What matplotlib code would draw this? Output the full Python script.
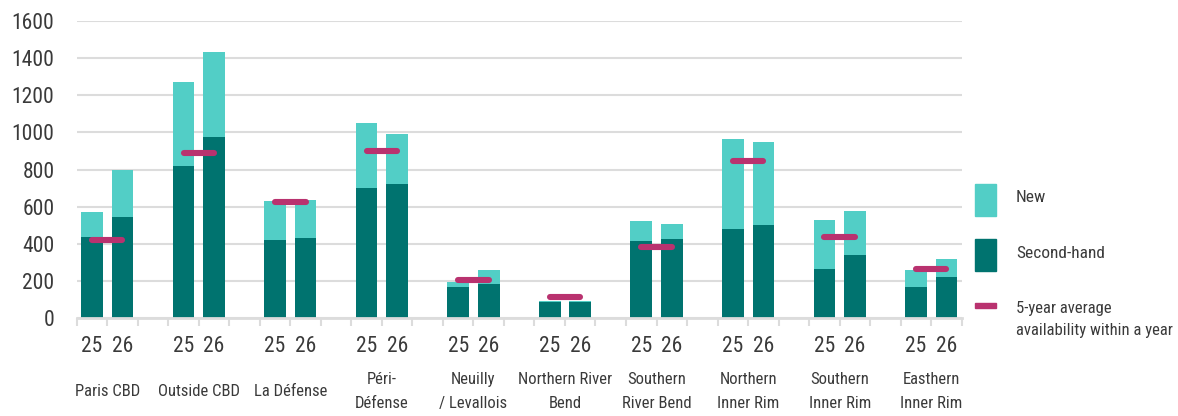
import os
import matplotlib
matplotlib.use("Agg")
import matplotlib.pyplot as plt
from matplotlib import font_manager as fm
from matplotlib.patches import Rectangle
import numpy as np

# ---------------- data ----------------
markets = ["Paris CBD", "Outside CBD", "La Défense", "Péri-\nDéfense", "Neuilly\n/ Levallois",
           "Northern River\nBend", "Southern\nRiver Bend", "Northern\nInner Rim", "Southern\nInner Rim",
           "Easthern\nInner Rim"]
years = ["25", "26"]
second_hand_25 = [437, 819, 423, 700, 167, 88, 417, 478, 263, 170]
second_hand_26 = [546, 973, 433, 724, 184, 88, 426, 502, 340, 220]
total_25 = [571, 1269, 629, 1048, 195, 93, 525, 964, 530, 260]
total_26 = [796, 1433, 638, 991, 260, 93, 505, 946, 577, 317]
avg_5y = [419, 887, 625, 901, 206, 113, 382, 847, 439, 263]
y_ticks = [0, 200, 400, 600, 800, 1000, 1200, 1400, 1600]

# ---------------- fonts ----------------
def pick_font():
    files = sorted({f.fname for f in fm.fontManager.ttflist})
    bad = ["Mono", "Serif", "Italic", "Bold", "Semi", "Oblique", "Black", "Thin", "Medium",
           "Display", "UI", "CJK", "Symbols", "Math"]
    prefs = ["NotoSans-ExtraCondensedLight", "NotoSans-ExtraCondensed.", "NotoSans-ExtraCondensed-",
             "RobotoCondensed-Light", "NotoSans-CondensedLight", "OpenSans-CondLight",
             "RobotoCondensed-Regular", "RobotoCondensed", "NotoSans-Condensed",
             "LiberationSansNarrow-Regular", "DejaVuSansCondensed.", "Condensed", "Narrow"]
    for p in prefs:
        for f in files:
            b = os.path.basename(f)
            if p in b and not any(x in b for x in bad if x not in p):
                return f
    return None

ff = pick_font()
if ff:
    fm.fontManager.addfont(ff)
    fam = fm.FontProperties(fname=ff).get_name()
    plt.rcParams["font.family"] = [fam, "DejaVu Sans"]
else:
    plt.rcParams["font.family"] = ["DejaVu Sans"]

TXT = "#3a3a3a"
C_NEW = "#52CEC6"
C_SH = "#00736F"
C_AVG = "#B9326F"
GRID = "#DCDCDC"

fig = plt.figure(figsize=(11.78, 4.16), dpi=100)
ax = fig.add_axes([76.7 / 1178, 97.7 / 416, (961.7 - 76.7) / 1178, 297.6 / 416])

n = len(markets)
x25 = np.arange(n) * 3
x26 = x25 + 1
sh25 = np.array(second_hand_25); sh26 = np.array(second_hand_26)
t25 = np.array(total_25); t26 = np.array(total_26)
w = 0.71

ax.bar(x25, sh25, w, color=C_SH, zorder=3)
ax.bar(x25, t25 - sh25, w, bottom=sh25, color=C_NEW, zorder=3)
ax.bar(x26, sh26, w, color=C_SH, zorder=3)
ax.bar(x26, t26 - sh26, w, bottom=sh26, color=C_NEW, zorder=3)

for i in range(n):
    ax.plot([x25[i], x26[i]], [avg_5y[i], avg_5y[i]], color=C_AVG, lw=4.4,
            solid_capstyle="round", zorder=4)

ax.set_xlim(-0.5, 3 * n - 1.5)
ax.set_ylim(0, 1600)
ax.set_yticks(y_ticks)
ax.set_yticklabels([str(v) for v in y_ticks], fontsize=15.5, color=TXT)
ax.tick_params(axis="y", length=0, pad=16)
ax.yaxis.grid(True, color=GRID, lw=1.5, zorder=0)
for s in ["top", "right", "left"]:
    ax.spines[s].set_visible(False)
ax.spines["bottom"].set_color(GRID)
ax.spines["bottom"].set_linewidth(2)
ax.spines["bottom"].set_zorder(5)

xt = np.ravel(np.column_stack([x25, x26]))
ax.set_xticks(xt)
ax.set_xticklabels(years * n, fontsize=15.5, color=TXT)
ax.tick_params(axis="x", which="major", length=0, pad=13)
ax.set_xticks(np.arange(-0.5, 3 * n - 1.0, 1.0), minor=True)
ax.tick_params(axis="x", which="minor", length=6, width=1.5, color=GRID)

for i, m in enumerate(markets):
    ax.text(x25[i] + 0.5, -0.245, m, transform=ax.get_xaxis_transform(), ha="center",
            va="center", fontsize=12, color=TXT, linespacing=1.75)

# legend (manual)
def fx(px): return px / 1178
def fy(py): return 1 - py / 416
fig.patches.append(Rectangle((fx(975), fy(216)), fx(996) - fx(975), fy(184) - fy(216),
                             transform=fig.transFigure, color=C_NEW))
fig.patches.append(Rectangle((fx(975), fy(271)), fx(996) - fx(975), fy(239) - fy(271),
                             transform=fig.transFigure, color=C_SH))
fig.patches.append(Rectangle((fx(975), fy(308)), fx(996) - fx(975), fy(302.5) - fy(308),
                             transform=fig.transFigure, color=C_AVG))
fig.text(fx(1016), fy(198), "New", fontsize=12.5, color=TXT, va="center", ha="left")
fig.text(fx(1016), fy(254), "Second-hand", fontsize=12.5, color=TXT, va="center", ha="left")
fig.text(fx(1016), fy(319.5), "5-year average\navailability within a year", fontsize=12,
         color=TXT, va="center", ha="left", linespacing=1.65)

fig.savefig("out.png", dpi=100, facecolor="white")
